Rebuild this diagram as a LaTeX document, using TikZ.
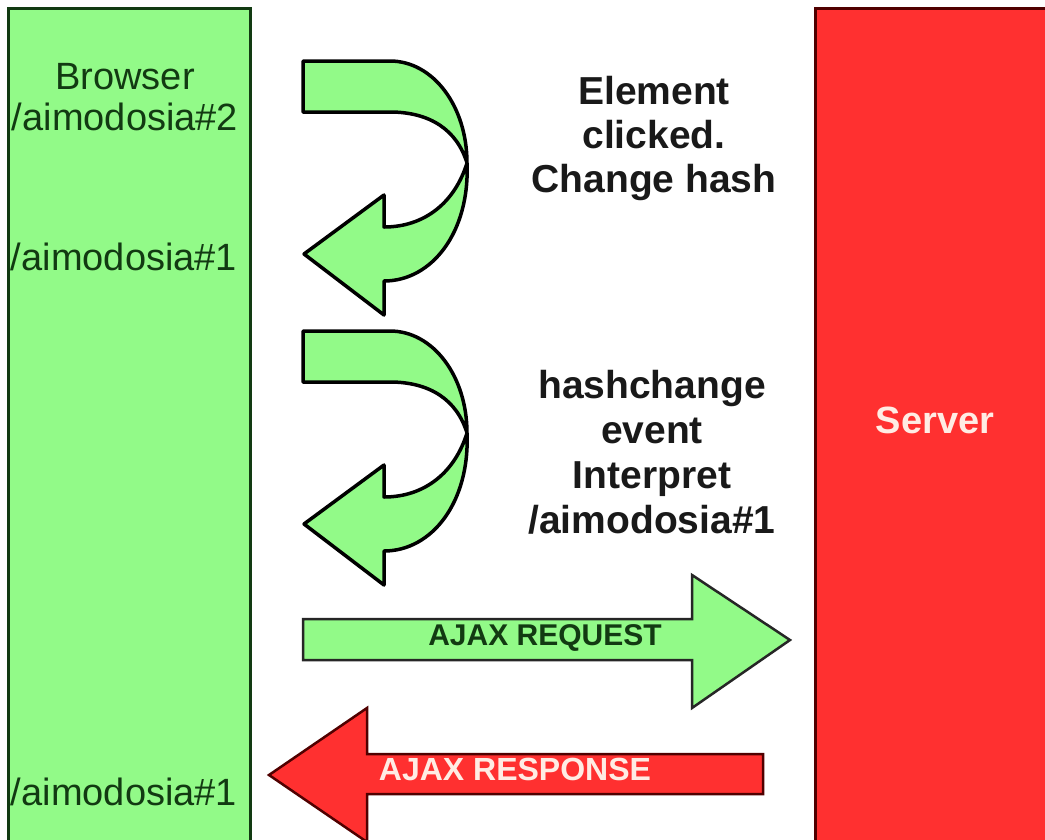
\documentclass[tikz,border=0pt]{standalone}
\usepackage{fontspec}
\setmainfont{Liberation Sans}

\definecolor{browsergreen}{RGB}{146,250,136}
\definecolor{servered}{RGB}{255,48,48}
\definecolor{darkgreen}{RGB}{18,58,18}
\definecolor{darkred}{RGB}{80,0,0}
\definecolor{paletext}{RGB}{255,236,228}

\tikzset{
  panel/.style={line width=3pt},
  uturn/.style={fill=browsergreen, draw=black, line width=3.5pt, line join=round},
  flatarrow/.style={draw=black!85, line width=2.5pt, line join=miter},
  urltext/.style={font=\fontsize{38}{41}\selectfont, text=darkgreen, inner sep=0pt},
  steptext/.style={font=\fontsize{39}{44}\selectfont\bfseries, text=black!90, align=center, inner sep=0pt},
}

\begin{document}
\begin{tikzpicture}[x=1pt, y=-1pt]
  %--- Rahmen (Pixelkoordinaten, y nach unten)
  \useasboundingbox (0,0) rectangle (1045,839);
  \clip (0,0) rectangle (1045,839);
  \fill[white] (0,0) rectangle (1045,839);

  %--- Browser- und Server-Spalte
  \filldraw[panel, fill=browsergreen, draw=darkgreen] (8,8) rectangle (250,860);
  \filldraw[panel, fill=servered, draw=darkred] (815,8) rectangle (1060,860);

  %--- Kehrpfeile (zweimal, um 270 verschoben)
  \foreach \dy in {0,270}{
    \begin{scope}[shift={(0,\dy)}]
      \filldraw[uturn] (303,61) -- (390,61)
        .. controls (433,61) and (467,106) .. (467,163)
        .. controls (470,232) and (432,281) .. (384,281)
        -- (384,315) -- (304,254) -- (384,195) -- (384,227)
        .. controls (425,227) and (455,202) .. (467,163)
        .. controls (457,130) and (430,112) .. (390,112)
        -- (303,112) -- cycle;
    \end{scope}
  }

  %--- AJAX-Anfrage und -Antwort
  \filldraw[flatarrow, fill=browsergreen] (303,619) -- (692,619) -- (692,575)
    -- (790,640) -- (692,708) -- (692,660) -- (303,660) -- cycle;
  \filldraw[flatarrow, fill=servered, draw=darkred] (763,754) -- (367,754) -- (367,708)
    -- (269,775) -- (367,842) -- (367,794) -- (763,794) -- cycle;

  %--- Beschriftungen Browser
  \node[urltext, align=center] (browser) at (125,97) {Browser\\/aimodosia\#2};
  \node[urltext, anchor=base] (hashone) at (124,270) {/aimodosia\#1};
  \node[urltext, anchor=base] (hashback) at (124,805) {/aimodosia\#1};

  %--- Beschriftungen Schritte
  \node[steptext] (click) at (654,138) {Element\\clicked.\\Change hash};
  \node[steptext, font=\fontsize{39}{45}\selectfont\bfseries] (hashevent) at (652,452)
    {hashchange\\event\\Interpret\\/aimodosia\#1};

  %--- Server und AJAX-Texte
  \node[font=\fontsize{38}{40}\selectfont\bfseries, text=paletext, anchor=base, inner sep=0pt] (server) at (935,433) {Server};
  \node[font=\fontsize{30}{32}\selectfont\bfseries, text=darkgreen, anchor=base, inner sep=0pt] (req) at (545,645) {AJAX REQUEST};
  \node[font=\fontsize{32}{34}\selectfont\bfseries, text=paletext, anchor=base, inner sep=0pt] (resp) at (515,780) {AJAX RESPONSE};
\end{tikzpicture}
\end{document}
